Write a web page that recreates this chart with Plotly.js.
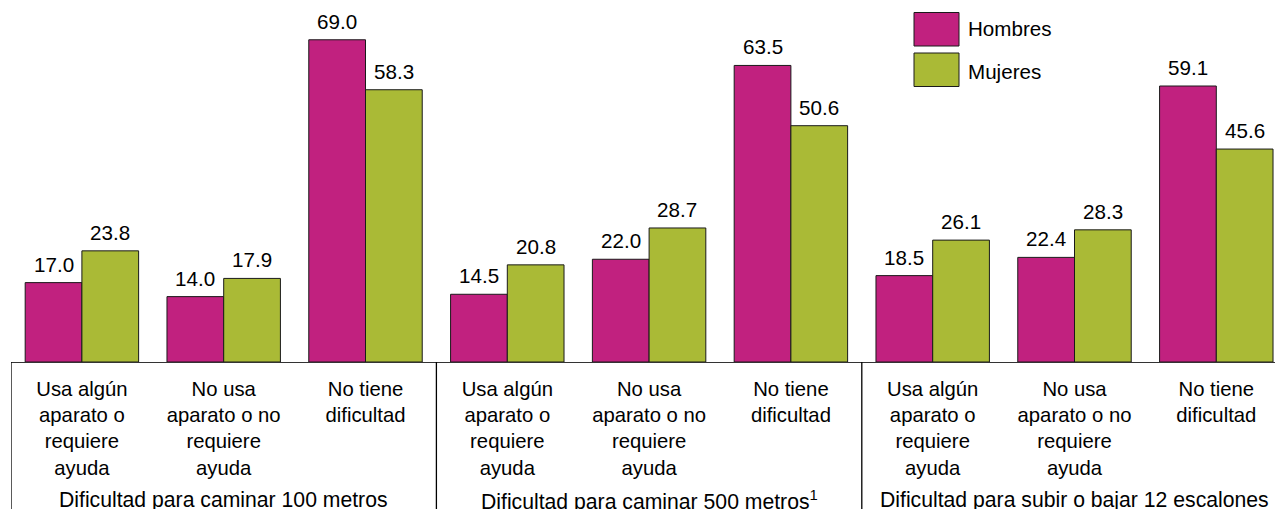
<!DOCTYPE html>
<html>
<head>
<meta charset="utf-8">
<script src="https://cdn.plot.ly/plotly-3.0.1.min.js"></script>
<style>html,body{margin:0;padding:0;background:#fff;}#chart{width:1275px;height:509px;}</style>
</head>
<body>
<div id="chart"></div>
<script>
const groups = ["Dificultad para caminar 100 metros", "Dificultad para caminar 500 metros<sup>1</sup>", "Dificultad para subir o bajar 12 escalones"];
const categories = [
  "Usa algún<br>aparato o<br>requiere<br>ayuda",
  "No usa<br>aparato o no<br>requiere<br>ayuda",
  "No tiene<br>dificultad"
];
const hombres = [17.0, 14.0, 69.0, 14.5, 22.0, 63.5, 18.5, 22.4, 59.1];
const mujeres = [23.8, 17.9, 58.3, 20.8, 28.7, 50.6, 26.1, 28.3, 45.6];
const seriesNames = ["Hombres", "Mujeres"];
const colors = ["#C1217F", "#AABA36"];

const W = 1275, H = 509;
const ml = 11, mr = 0, mt = 0, mb = 147;
const plotW = W - ml - mr, plotH = H - mt - mb;
const catPx = 141.8;
const xMax = -0.5 + plotW / catPx;
const yPerUnit = 4.67;
const yMax = plotH / yPerUnit;
const FONT = "Liberation Sans, Arial, sans-serif";
const FS = 20.6;
const FS_GROUP = 21.2;
const FS_TICK = 20.3;

const idx = hombres.map((_, i) => i);
const tickText = idx.map(i => categories[i % categories.length]);

const px2paperX = p => (p - ml) / plotW;
const px2paperY = p => (H - mb - p) / plotH;

const traces = [hombres, mujeres].map((vals, s) => ({
  type: 'bar', x: idx, y: vals, name: seriesNames[s],
  marker: {color: colors[s], line: {color: '#1a1a1a', width: 1}},
  showlegend: false, hoverinfo: 'skip'
}));

const annotations = [];
[hombres, mujeres].forEach((vals, s) => {
  vals.forEach((v, i) => {
    annotations.push({
      xref: 'x', yref: 'y', x: i + (s === 0 ? -0.2 : 0.2), y: v,
      text: v.toFixed(1), showarrow: false, yanchor: 'bottom', yshift: 5,
      font: {family: FONT, size: FS, color: '#000'}
    });
  });
});
groups.forEach((g, k) => {
  annotations.push({
    xref: 'x', yref: 'paper', x: k * 3 + 1, y: px2paperY(500), yanchor: 'middle',
    text: g, showarrow: false, font: {family: FONT, size: FS_GROUP, color: '#000'}
  });
});
// legend
seriesNames.forEach((n, s) => {
  annotations.push({
    xref: 'paper', yref: 'paper', x: px2paperX(966), y: px2paperY([29, 71][s]),
    xanchor: 'left', yanchor: 'middle', text: n, showarrow: false,
    font: {family: FONT, size: FS, color: '#000'}
  });
});

const shapes = [];
seriesNames.forEach((n, s) => {
  const top = [12.5, 53][s], bot = [46, 86.5][s];
  shapes.push({type: 'rect', xref: 'paper', yref: 'paper',
    x0: px2paperX(914), x1: px2paperX(959), y0: px2paperY(bot), y1: px2paperY(top),
    fillcolor: colors[s], line: {color: '#1a1a1a', width: 1}});
});
// table vertical dividers
for (let k = 0; k <= groups.length; k++) {
  shapes.push({type: 'line', xref: 'x', yref: 'paper', x0: k * 3 - 0.5, x1: k * 3 - 0.5,
    y0: 0, y1: px2paperY(H + 5), line: {color: '#000', width: 1.3}});
}

const layout = {
  width: W, height: H,
  margin: {l: ml, r: mr, t: mt, b: mb, pad: 0},
  paper_bgcolor: '#fff', plot_bgcolor: '#fff',
  barmode: 'group', bargap: 0.2, bargroupgap: 0,
  xaxis: {range: [-0.5, xMax], tickvals: idx, ticktext: tickText, ticks: '',
    showgrid: false, zeroline: false, showline: true, linecolor: '#333', linewidth: 1.3,
    ticklabelstandoff: 8, tickfont: {family: FONT, size: FS_TICK, color: '#000'}, fixedrange: true},
  yaxis: {range: [0, yMax], visible: false, showgrid: false, zeroline: false, fixedrange: true},
  annotations: annotations, shapes: shapes,
  font: {family: FONT, color: '#000'}
};
Plotly.newPlot('chart', traces, layout, {displayModeBar: false, staticPlot: true});
</script>
</body>
</html>
